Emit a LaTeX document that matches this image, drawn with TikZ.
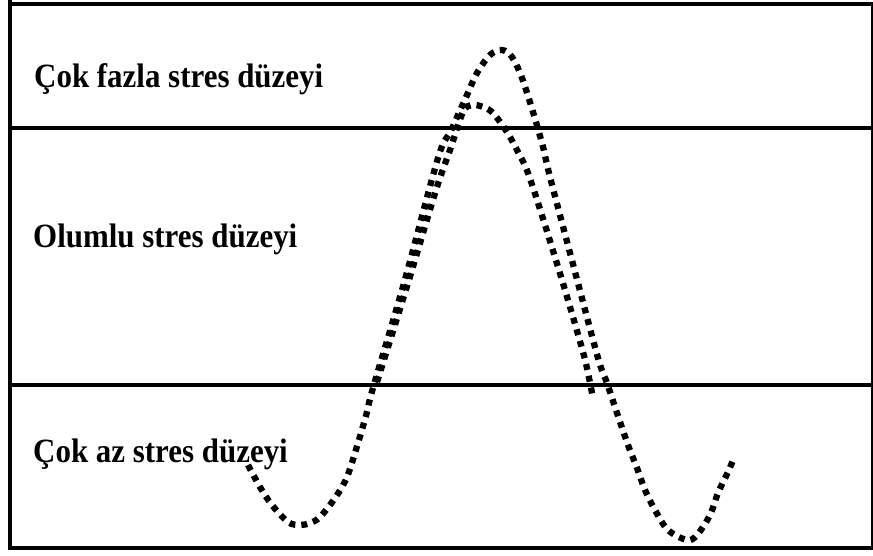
\documentclass[tikz,border=0pt]{standalone}
\usepackage{fontspec}
\setmainfont{Liberation Serif}[FakeStretch=0.91]
\begin{document}
\begin{tikzpicture}[x=1pt,y=-1pt,
  frameline/.style={line width=4pt,black},
  dotcurve/.style={line width=6.3pt,dash pattern=on 6pt off 6pt,line cap=butt},
  lbl/.style={anchor=base west,inner sep=0pt,font=\fontsize{34}{40}\selectfont\bfseries}]
\useasboundingbox (0,0) rectangle (873,555);
% frame and band lines
\draw[frameline] (10,0) -- (10,550);
\draw[frameline] (8,4) -- (873,4);
\draw[line width=1.5pt] (872,4) -- (872,548);
\draw[frameline] (8,548) -- (873,548);
\draw[line width=4.5pt] (8,128) -- (873,128);
\draw[line width=4.5pt] (8,385) -- (873,385);
% labels
\node[lbl] (high) at (34,87) {Çok fazla stres düzeyi};
\node[lbl] (mid) at (33,247) {Olumlu stres düzeyi};
\node[lbl] (low) at (33,462) {Çok az stres düzeyi};
% curve A (taller)
\draw[dotcurve] plot[smooth,tension=0.55] coordinates {
  (248,465) (260,487) (272,505) (288,522) (300,525) (310,523) (320,517)
  (335,498) (347,477) (358,443) (367,412) (373,388) (404,283) (438,158)
  (450,133) (458,115) (467,95) (477,73) (490,55) (502,50) (512,57)
  (522,78) (533,112) (543,147) (550,177) (574,268) (598,358) (607,383)
  (617,413) (628,445) (637,468) (645,490) (655,510) (668,530) (687,540)
  (697,535) (710,515) (718,493) (728,472) (734,458)};
% curve B (lower peak)
\draw[dotcurve] plot[smooth,tension=0.55] coordinates {
  (377,382) (408,283) (436,190) (450,150) (463,112) (472,105) (483,107)
  (493,113) (507,132) (518,152) (528,173) (545,225) (565,290) (583,352)
  (588,373) (593,398)};
\end{tikzpicture}
\end{document}
